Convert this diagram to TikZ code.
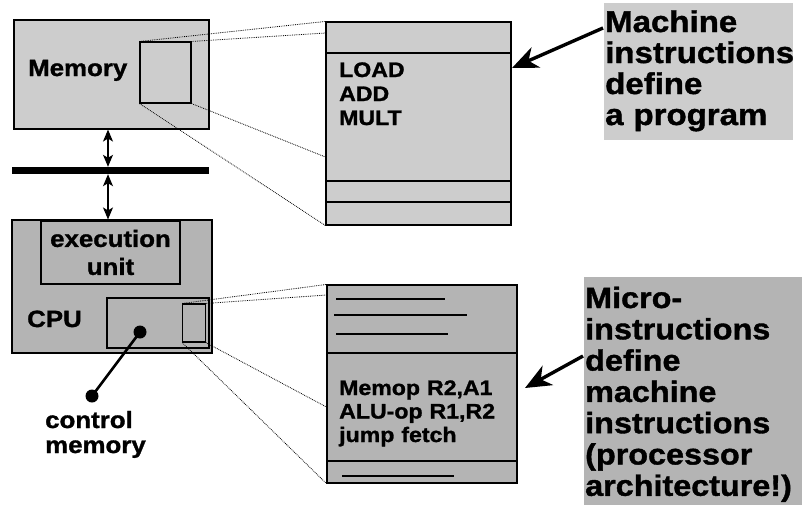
\documentclass[tikz,border=0pt]{standalone}
\usepackage{fontspec}
\setmainfont{Liberation Sans}[FakeStretch=1.1, BoldFont={Liberation Sans Bold}, BoldFeatures={FakeBold=1.3}]
\usetikzlibrary{arrows.meta}
\definecolor{lg}{RGB}{205,205,205}
\definecolor{dg}{RGB}{180,180,180}
\begin{document}
\begin{tikzpicture}[x=1pt,y=-1pt,
  box/.style={draw=black, line width=1.1pt, inner sep=0pt},
  lbox/.style={box, fill=lg},
  dbox/.style={box, fill=dg},
  zoomline/.style={densely dotted, line width=0.8pt},
  dbl/.style={line width=1.2pt, {Stealth[length=12pt,width=10pt,inset=3pt]}-{Stealth[length=12pt,width=10pt,inset=3pt]}},
  bigarrow/.style={line width=3.4pt, -{Stealth[length=26pt,width=22pt,inset=8pt]}},
  dotmark/.style={circle, fill=black, minimum size=13pt, inner sep=0pt},
  small/.style={font=\bfseries\fontsize{21}{24}\selectfont, inner sep=0pt},
  mid/.style={font=\bfseries\fontsize{23.5}{25}\selectfont, inner sep=0pt},
  big/.style={font=\bfseries\fontsize{30}{31}\selectfont, inner sep=0pt, align=left}
]
\useasboundingbox (0,0) rectangle (802,504);

% label boxes
\node[fill=lg, minimum width=189pt, minimum height=137pt, inner sep=0pt] (lab1) at (698.5,71.5) {};
\node[big, anchor=base west, text width=186pt] (lab1t) at (605,32) {Machine\\instructions\\define\\a program};
\node[fill=dg, minimum width=222pt, minimum height=228pt, inner sep=0pt] (lab2) at (695,391) {};
\node[big, anchor=base west, text width=212pt, font=\bfseries\fontsize{29.4}{31.3}\selectfont] (lab2t) at (585,308) {Micro-\\instructions\\define\\machine\\instructions\\(processor\\architecture!)};

% memory
\node[lbox, minimum width=195pt, minimum height=109pt] (mem) at (111.5,74.5) {};
\node[lbox, minimum width=51pt, minimum height=61pt] (memsel) at (165.5,72.5) {};
\node[mid, anchor=base west] (memlbl) at (28,76) {Memory};

% bus
\node[fill=black, minimum width=197pt, minimum height=7pt, inner sep=0pt] (bus) at (110.5,170.5) {};
\coordinate (busx) at (108,170.5);
\draw[dbl] (busx |- mem.south) -- (busx |- bus.north);

% CPU
\node[dbox, minimum width=200pt, minimum height=133pt] (cpu) at (112,286.5) {};
\draw[dbl] (busx |- bus.south) -- (busx |- cpu.north);
\node[dbox, minimum width=139pt, minimum height=63pt, align=center, font=\bfseries\fontsize{23.5}{28}\selectfont] (exec) at (110.5,252.5) {execution\\unit};
\node[mid, anchor=base west] (cpulbl) at (27,327) {CPU};
\node[dbox, minimum width=102pt, minimum height=50pt] (cmem) at (158,323) {};
\node[dbox, minimum width=22.5pt, minimum height=38pt] (cmsel) at (194,323) {};

% control memory pointer
\node[dotmark] (dot1) at (140,332) {};
\node[dotmark] (dot2) at (92,396) {};
\draw[line width=2.6pt] (dot1.center) -- (dot2.center);
\node[mid, anchor=base west, align=left, text width=130pt] (cmlbl) at (45,428) {control\\memory};

% program zoom box
\node[lbox, minimum width=185pt, minimum height=203pt] (prog) at (418.5,123.5) {};
\draw[line width=1.1pt] (prog.west |- 0,53) -- (prog.east |- 0,53);
\draw[line width=1.1pt] (prog.west |- 0,181) -- (prog.east |- 0,181);
\draw[line width=1.1pt] (prog.west |- 0,202) -- (prog.east |- 0,202);
\node[small, anchor=base west, align=left, text width=120pt] (progt) at (339,77) {LOAD\\ADD\\MULT};

\draw[zoomline] (memsel.north west) -- (prog.north west);
\draw[zoomline] (memsel.north east) -- (prog.west |- 0,33);
\draw[zoomline] (memsel.south east) -- (prog.west |- 0,157);
\draw[zoomline] (memsel.south west) -- (prog.south west);

% micro zoom box
\node[dbox, minimum width=190pt, minimum height=198pt] (micro) at (422,384) {};
\draw[line width=1.1pt] (micro.west |- 0,353) -- (micro.east |- 0,353);
\draw[line width=1.1pt] (micro.west |- 0,461) -- (micro.east |- 0,461);
\draw[line width=1.1pt] (336,299) -- (445,299);
\draw[line width=1.1pt] (334,315) -- (467,315);
\draw[line width=1.1pt] (336,334) -- (448,334);
\draw[line width=1.1pt] (342,476) -- (454,476);
\node[small, anchor=base west, align=left, text width=175pt, font=\bfseries\fontsize{21}{23.5}\selectfont] (microt) at (339,395) {Memop R2,A1\\ALU-op R1,R2\\jump fetch};

\draw[zoomline] (cmsel.north west) -- (micro.north west);
\draw[zoomline] (cmsel.north east) -- (micro.west |- 0,295);
\draw[zoomline] (cmsel.south east) -- (micro.west |- 0,407);
\draw[zoomline] (cmsel.south west) -- (micro.south west);

% arrows
\coordinate (a1s) at (603,28);
\coordinate (a1t) at (512,68);
\draw[bigarrow] (a1s) -- (a1t);
\coordinate (a2s) at (583,356);
\coordinate (a2t) at (525,388);
\draw[bigarrow] (a2s) -- (a2t);
\end{tikzpicture}
\end{document}
